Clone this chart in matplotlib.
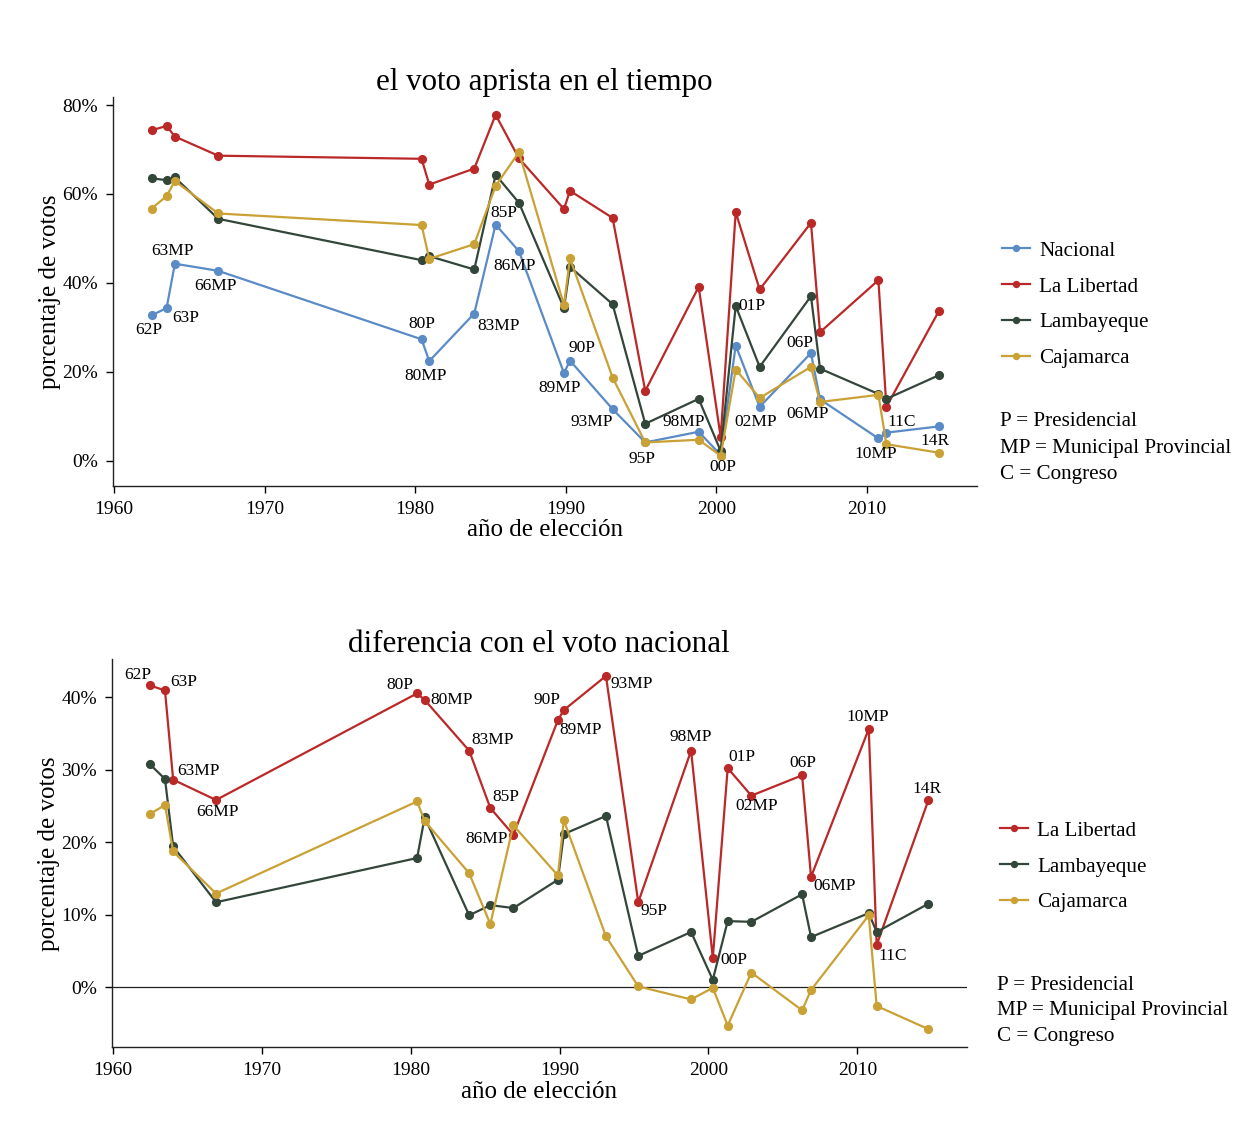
import matplotlib
matplotlib.use("Agg")
import matplotlib.pyplot as plt

plt.rcParams['font.family'] = ['Liberation Serif', 'DejaVu Serif']

# ---------------- data ----------------
years = [1962.48, 1963.48, 1964.03, 1966.91, 1980.42, 1980.93, 1983.92, 1985.34,
         1986.89, 1989.88, 1990.28, 1993.11, 1995.28, 1998.83, 2000.29, 2001.29,
         2002.88, 2006.29, 2006.89, 2010.77, 2011.30, 2014.78]
election_labels = ['62P', '63P', '63MP', '66MP', '80P', '80MP', '83MP', '85P', '86MP',
                   '89MP', '90P', '93MP', '95P', '98MP', '00P', '01P', '02MP', '06P',
                   '06MP', '10MP', '11C', '14R']

nacional = [32.7, 34.3, 44.3, 42.7, 27.3, 22.4, 33.1, 53.1, 47.1, 19.7, 22.5, 11.6,
            4.1, 6.5, 1.3, 25.9, 12.1, 24.2, 13.8, 5.0, 6.3, 7.7]
la_libertad = [74.3, 75.3, 72.9, 68.6, 67.9, 62.1, 65.7, 77.8, 68.0, 56.6, 60.7, 54.6,
               15.7, 39.1, 5.3, 55.9, 38.5, 53.5, 28.9, 40.6, 12.1, 33.6]
lambayeque = [63.5, 63.1, 63.7, 54.4, 45.1, 46.0, 43.0, 64.3, 58.0, 34.3, 43.6, 35.2,
              8.3, 13.9, 2.2, 34.8, 21.1, 37.0, 20.7, 15.0, 13.9, 19.2]
cajamarca = [56.7, 59.5, 62.9, 55.6, 53.0, 45.4, 48.7, 61.8, 69.4, 35.0, 45.5, 18.7,
             4.1, 4.7, 1.1, 20.5, 14.1, 21.1, 13.2, 14.8, 3.7, 1.8]

dif_libertad = [41.6, 40.9, 28.6, 25.8, 40.5, 39.6, 32.6, 24.7, 21.0, 36.8, 38.2, 42.9,
                11.7, 32.6, 4.0, 30.2, 26.4, 29.2, 15.2, 35.6, 5.8, 25.8]
dif_lambayeque = [30.7, 28.7, 19.4, 11.7, 17.8, 23.4, 9.9, 11.3, 10.9, 14.8, 21.1, 23.6,
                  4.3, 7.6, 1.0, 9.1, 9.0, 12.8, 6.9, 10.2, 7.6, 11.5]
dif_cajamarca = [23.9, 25.1, 18.7, 12.9, 25.6, 22.9, 15.7, 8.7, 22.3, 15.4, 23.0, 7.0,
                 0.1, -1.7, -0.1, -5.3, 2.0, -3.2, -0.4, 9.9, -2.6, -5.8]

series_names = ['Nacional', 'La Libertad', 'Lambayeque', 'Cajamarca']
colors = {'Nacional': '#5B8BC6', 'La Libertad': '#BB2828',
          'Lambayeque': '#33463A', 'Cajamarca': '#C9A134'}
note_lines = ['P = Presidencial', 'MP = Municipal Provincial', 'C = Congreso']

# label placement (pixel offsets of text centre from the point)
top_label_pos = {
    '62P': (-3, -15), '63P': (19, -10), '63MP': (-2, 13), '66MP': (-3, -15),
    '80P': (0, 15), '80MP': (-4, -15), '83MP': (24, -12), '85P': (8, 12),
    '86MP': (-4, -15), '89MP': (-4, -15), '90P': (12, 13), '93MP': (-21, -13),
    '95P': (-3, -17), '98MP': (-15, 10), '00P': (2, -12), '01P': (16, 0),
    '02MP': (-4, -15), '06P': (-11, 10), '06MP': (-12, -15), '10MP': (-3, -16),
    '11C': (15, 11), '14R': (-4, -15)}
bottom_label_pos = {
    '62P': (-12, 10), '63P': (19, 8), '63MP': (25, 9), '66MP': (1, -12),
    '80P': (-17, 8), '80MP': (27, 0), '83MP': (23, 11), '85P': (16, 11),
    '86MP': (-27, -4), '89MP': (23, -10), '90P': (-17, 10), '93MP': (26, -8),
    '95P': (16, -9), '98MP': (0, 14), '00P': (21, -2), '01P': (14, 11),
    '02MP': (5, -10), '06P': (1, 12), '06MP': (24, -9), '10MP': (-1, 12),
    '11C': (16, -11), '14R': (-1, 11)}

W, H = 1240, 1129
fig = plt.figure(figsize=(W / 100, H / 100), dpi=100)
fig.patch.set_facecolor('white')

TICK_FS = 14
LAB_FS = 18
TITLE_FS = 22.3
PT_FS = 12.5
LEG_FS = 15.2


def style_axes(ax):
    for s in ['top', 'right']:
        ax.spines[s].set_visible(False)
    for s in ['left', 'bottom']:
        ax.spines[s].set_color('#222222')
        ax.spines[s].set_linewidth(1.0)
    ax.tick_params(axis='both', direction='out', length=5, width=1.0,
                   labelsize=TICK_FS, colors='black', pad=5.5)
    ax.set_xticks([1960, 1970, 1980, 1990, 2000, 2010])
    ax.set_xlabel('año de elección', fontsize=LAB_FS, labelpad=1.2)
    ax.set_ylabel('porcentaje de votos', fontsize=LAB_FS, labelpad=1)


def draw(ax, name, vals):
    ax.plot(years, vals, color=colors[name], lw=1.6, marker='o', ms=6.6,
            markeredgewidth=0, label=name)


def legend_and_notes(ax, x_anchor, y_anchor, note_x, note_y0):
    ax.legend(loc='upper left', bbox_to_anchor=(x_anchor / W, 1 - y_anchor / H),
              bbox_transform=fig.transFigure, frameon=False, fontsize=LEG_FS,
              handlelength=1.35, handletextpad=0.42, labelspacing=0.76,
              borderaxespad=0, borderpad=0.4, markerscale=0.8)
    for k, line in enumerate(note_lines):
        fig.text(note_x / W, 1 - (note_y0 + 26 * k) / H, line, fontsize=LEG_FS,
                 ha='left', va='center')


# ---------------- top panel ----------------
ax1 = fig.add_axes([112.7 / W, 1 - 486 / H, 864 / W, 389 / H])
for name, vals in zip(series_names, [nacional, la_libertad, lambayeque, cajamarca]):
    draw(ax1, name, vals)
ax1.set_xlim(1959.9, 2017.3)
ax1.set_ylim(-5.7, 81.8)
ax1.set_yticks([0, 20, 40, 60, 80])
ax1.set_yticklabels([f'{v}%' for v in [0, 20, 40, 60, 80]])
style_axes(ax1)
ax1.set_title('el voto aprista en el tiempo', fontsize=TITLE_FS, pad=4)

for i, lab in enumerate(election_labels):
    dx, dy = top_label_pos[lab]
    yv = lambayeque[i] if lab == '01P' else nacional[i]
    ax1.annotate(lab, (years[i], yv), xytext=(dx, dy), textcoords='offset pixels',
                 ha='center', va='center', fontsize=PT_FS)

legend_and_notes(ax1, 993.5, 232.5, 1000, 422)

# ---------------- bottom panel ----------------
ax2 = fig.add_axes([111.7 / W, 1 - 1047.3 / H, 855 / W, 388 / H])
ax2.axhline(0, color='#222222', lw=0.9, zorder=1)
for name, vals in zip(series_names[1:], [dif_libertad, dif_lambayeque, dif_cajamarca]):
    draw(ax2, name, vals)
ax2.set_xlim(1959.9, 2017.35)
ax2.set_ylim(-8.3, 45.2)
ax2.set_yticks([0, 10, 20, 30, 40])
ax2.set_yticklabels([f'{v}%' for v in [0, 10, 20, 30, 40]])
style_axes(ax2)
ax2.set_title('diferencia con el voto nacional', fontsize=TITLE_FS, pad=4)

for i, lab in enumerate(election_labels):
    dx, dy = bottom_label_pos[lab]
    ax2.annotate(lab, (years[i], dif_libertad[i]), xytext=(dx, dy),
                 textcoords='offset pixels', ha='center', va='center', fontsize=PT_FS)

legend_and_notes(ax2, 991.5, 812.5, 997, 985)

fig.savefig('out.png', dpi=100, facecolor='white')
